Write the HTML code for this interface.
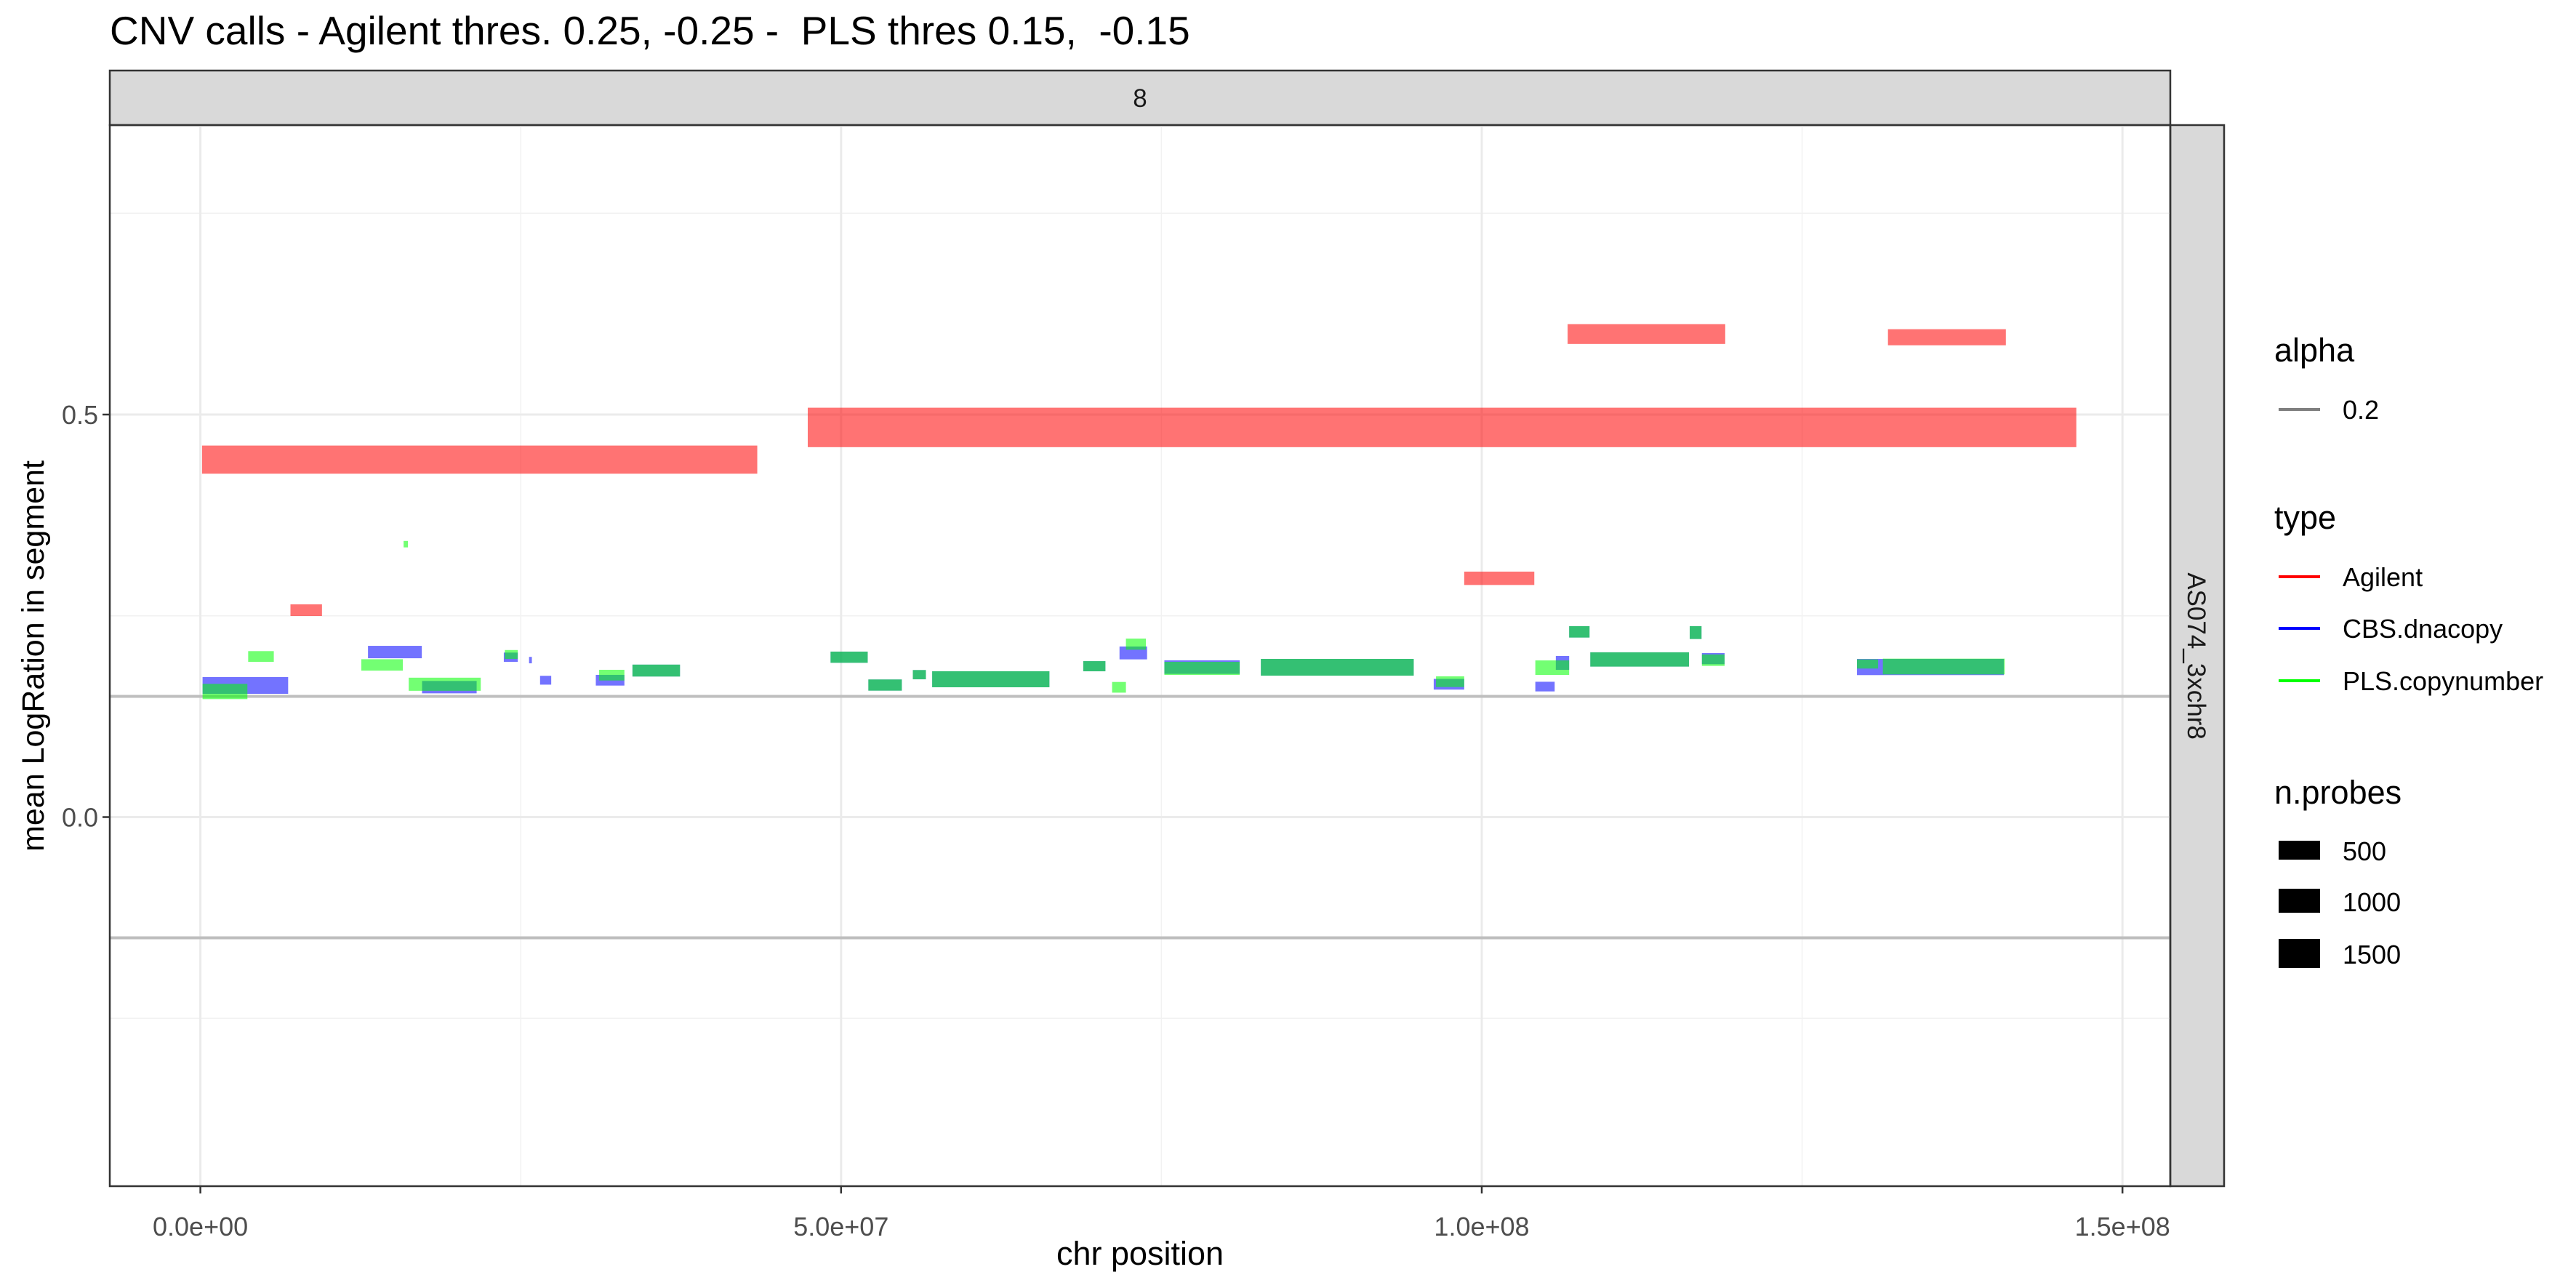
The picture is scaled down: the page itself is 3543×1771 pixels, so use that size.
<!DOCTYPE html>
<html><head><meta charset="utf-8"><style>
html,body{margin:0;padding:0;background:#fff;}
svg{display:block;font-family:"Liberation Sans",sans-serif;}
</style></head><body>
<svg id="chart" width="3543" height="1771" viewBox="0 0 3543 1771" xmlns="http://www.w3.org/2000/svg">
<rect x="0" y="0" width="3543" height="1771" fill="#fff"/>
<text x="151" y="61" font-size="55" fill="#000">CNV calls - Agilent thres. 0.25, -0.25 -&#160; PLS thres 0.15,&#160; -0.15</text>
<rect x="151" y="97" width="2834" height="75" fill="#d9d9d9" stroke="#333" stroke-width="2.5"/>
<text x="1568" y="147" font-size="35" fill="#1a1a1a" text-anchor="middle">8</text>
<rect x="2985" y="172" width="74" height="1459" fill="#d9d9d9" stroke="#333" stroke-width="2.5"/>
<text transform="translate(3009,902) rotate(90)" font-size="35" fill="#1a1a1a" text-anchor="middle">AS074_3xchr8</text>
<g id="grid"></g>
<g id="marks"></g>
<rect x="151" y="172" width="2834" height="1459" fill="none" stroke="#333" stroke-width="2.5"/>
<g id="axes"></g>
<text x="1568" y="1739" font-size="45" fill="#000" text-anchor="middle">chr position</text>
<text transform="translate(60,902) rotate(-90)" font-size="43" fill="#000" text-anchor="middle">mean LogRation in segment</text>
<g>
<text x="3128" y="497" font-size="45">alpha</text>
<line x1="3134" y1="563" x2="3191" y2="563" stroke="#7f7f7f" stroke-width="4"/>
<text x="3222" y="576" font-size="36">0.2</text>
<text x="3128" y="727" font-size="45">type</text>
<line x1="3134" y1="793" x2="3191" y2="793" stroke="#ff0000" stroke-width="4"/>
<text x="3222" y="806" font-size="36">Agilent</text>
<line x1="3134" y1="864" x2="3191" y2="864" stroke="#0000ff" stroke-width="4"/>
<text x="3222" y="877" font-size="36">CBS.dnacopy</text>
<line x1="3134" y1="936" x2="3191" y2="936" stroke="#00ff00" stroke-width="4"/>
<text x="3222" y="949" font-size="36">PLS.copynumber</text>
<text x="3128" y="1105" font-size="45">n.probes</text>
<rect x="3134" y="1156" width="57" height="26" fill="#000"/>
<text x="3222" y="1183" font-size="36">500</text>
<rect x="3134" y="1222" width="57" height="33" fill="#000"/>
<text x="3222" y="1253" font-size="36">1000</text>
<rect x="3134" y="1291" width="57" height="40" fill="#000"/>
<text x="3222" y="1325" font-size="36">1500</text>
</g>
</svg>
<script>
// Data (positions in Mb, mean log ratio, bar thickness in log-ratio units)
const agStart = [0.13, 47.4, 106.7, 131.7, 98.63, 7.03];
const agEnd   = [43.46, 146.4, 119.0, 140.9, 104.1, 9.49];
const agMean  = [0.444, 0.484, 0.600, 0.596, 0.2966, 0.257];
const agH     = [0.035, 0.049, 0.0245, 0.020, 0.0166, 0.0145];

const cbsStart = [0.17,13.08,17.3,23.68,25.65,26.51,30.86,33.72,49.18,52.13,55.6,57.11,68.9,71.73,75.23,82.76,96.25,105.78,104.18,106.82,108.47,116.23,117.18,129.28];
const cbsEnd   = [6.85,17.28,21.56,24.77,25.87,27.38,33.09,37.43,52.08,54.74,56.62,66.26,70.63,73.88,81.11,94.69,98.63,106.82,105.69,108.41,116.17,117.15,118.95,140.74];
const cbsMean  = [0.1635,0.205,0.1614,0.1986,0.195,0.170,0.170,0.182,0.1986,0.164,0.1769,0.1712,0.1874,0.2039,0.1863,0.1861,0.165,0.1915,0.1621,0.2301,0.1958,0.2292,0.1968,0.1864];
const cbsH     = [0.0208,0.0154,0.0154,0.0115,0.008,0.011,0.0133,0.0148,0.0139,0.0139,0.0115,0.0199,0.0126,0.016,0.0168,0.0208,0.0133,0.0172,0.012,0.0142,0.0178,0.016,0.0138,0.0201];

const plsStart = [15.86,3.73,12.56,0.17,16.26,23.76,31.12,33.72,49.18,52.13,55.6,57.11,68.9,72.23,71.15,75.23,82.76,96.43,104.18,106.82,108.47,116.23,117.18,129.28,131.3];
const plsEnd   = [16.2,5.73,15.8,3.67,21.88,24.77,33.09,37.43,52.08,54.74,56.62,66.26,70.63,73.79,72.23,81.11,94.69,98.63,106.82,108.41,116.17,117.15,118.95,130.93,140.81];
const plsMean  = [0.339,0.1995,0.189,0.156,0.165,0.202,0.1763,0.182,0.1986,0.164,0.1769,0.1712,0.1874,0.2148,0.1612,0.1847,0.1861,0.1682,0.1856,0.2301,0.1958,0.2292,0.1949,0.1902,0.187];
const plsH     = [0.008,0.0133,0.0142,0.019,0.0163,0.011,0.0133,0.0148,0.0139,0.0139,0.0115,0.0199,0.0126,0.0138,0.0133,0.0163,0.0208,0.0133,0.018,0.0142,0.0178,0.016,0.0142,0.0114,0.0196];

const thresholds = [0.15, -0.15];
const xMajor = [0, 50, 100, 150];
const xMajorLabels = ["0.0e+00", "5.0e+07", "1.0e+08", "1.5e+08"];
const xMinor = [25, 75, 125];
const yMajor = [0, 0.5];
const yMajorLabels = ["0.0", "0.5"];
const yMinor = [-0.25, 0.25, 0.75];

const NS = "http://www.w3.org/2000/svg";
const PL = 151, PR = 2985, PT = 172, PB = 1631;
function X(mb){ return 275.6 + mb * 17.624; }
function Y(v){ return 1123.5 - v * 1107; }
function mk(tag, attrs, parent){
  const e = document.createElementNS(NS, tag);
  for (const k in attrs) e.setAttribute(k, attrs[k]);
  parent.appendChild(e); return e;
}
const grid = document.getElementById('grid');
const marks = document.getElementById('marks');
const axes = document.getElementById('axes');

yMinor.forEach(v => {
  const l = mk('line', {x1:PL, x2:PR, y1:Y(v), y2:Y(v), stroke:'#f2f2f2', 'stroke-width':1.5}, grid);
  
  
});
xMinor.forEach(v => {
  const l = mk('line', {x1:X(v), x2:X(v), y1:PT, y2:PB, stroke:'#f2f2f2', 'stroke-width':1.5}, grid);
  
  
});
yMajor.forEach(v => {
  const l = mk('line', {x1:PL, x2:PR, y1:Y(v), y2:Y(v), stroke:'#ebebeb', 'stroke-width':3}, grid);
  
  
});
xMajor.forEach(v => {
  const l = mk('line', {x1:X(v), x2:X(v), y1:PT, y2:PB, stroke:'#ebebeb', 'stroke-width':3}, grid);
  
  
});
thresholds.forEach(v => {
  const l = mk('line', {x1:PL, x2:PR, y1:Y(v), y2:Y(v), stroke:'#bebebe', 'stroke-width':4}, grid);
  
  
});

function drawSeries(starts, ends, means, hs, color, name){
  for (let i = 0; i < starts.length; i++){
    const y1 = Y(means[i] + hs[i]/2), y2 = Y(means[i] - hs[i]/2);
    const r = mk('rect', {x:X(starts[i]), y:y1, width:Math.max(1, X(ends[i]) - X(starts[i])), height:y2 - y1, fill:color, 'fill-opacity':0.55}, marks);
    
    
  }
}
drawSeries(agStart, agEnd, agMean, agH, '#ff0000', 'agilent-segment');
drawSeries(cbsStart, cbsEnd, cbsMean, cbsH, '#0000ff', 'cbs-segment');
drawSeries(plsStart, plsEnd, plsMean, plsH, '#00ff00', 'pls-segment');

xMajor.forEach((v, i) => {
  const t = mk('line', {x1:X(v), x2:X(v), y1:PB, y2:PB + 10, stroke:'#333', 'stroke-width':2.5}, axes);
  
  
  const lb = mk('text', {x:X(v), y:1699, 'font-size':36, fill:'#4d4d4d', 'text-anchor':'middle'}, axes);
  lb.textContent = xMajorLabels[i];
  
  
});
yMajor.forEach((v, i) => {
  const t = mk('line', {x1:PL - 10, x2:PL, y1:Y(v), y2:Y(v), stroke:'#333', 'stroke-width':2.5}, axes);
  
  
  const lb = mk('text', {x:PL - 16, y:Y(v) + 13, 'font-size':36, fill:'#4d4d4d', 'text-anchor':'end'}, axes);
  lb.textContent = yMajorLabels[i];
  
  
});
</script>
</body></html>
